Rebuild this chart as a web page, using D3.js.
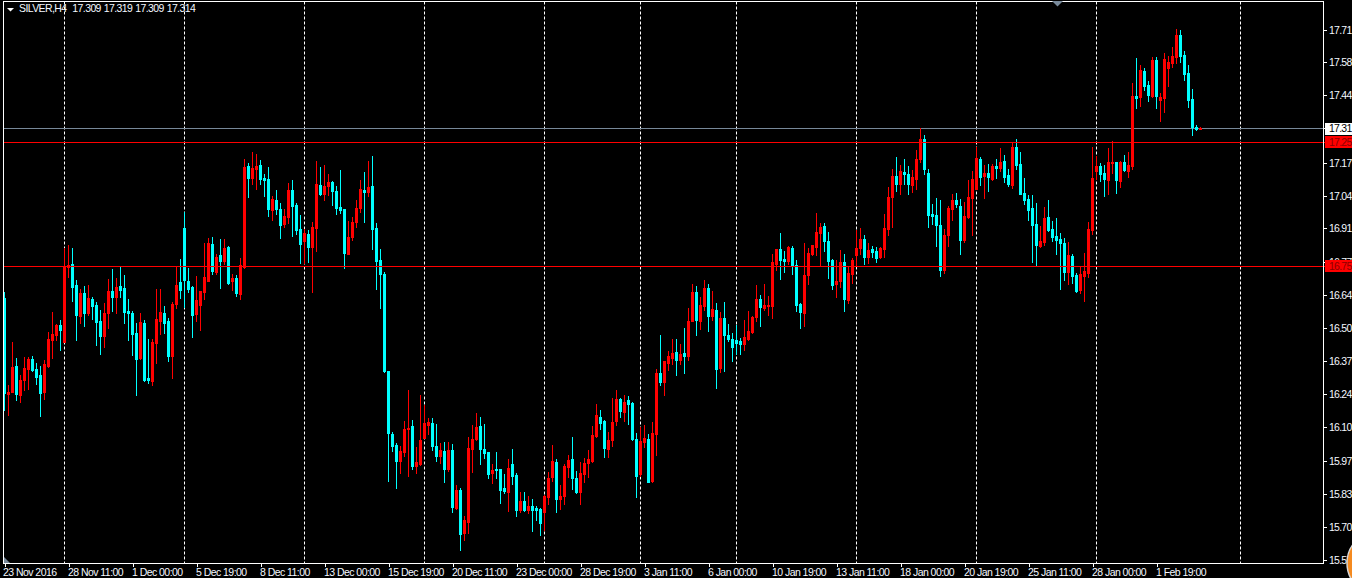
<!DOCTYPE html>
<html>
<head>
<meta charset="utf-8">
<script src="https://cdn.jsdelivr.net/npm/d3@7/dist/d3.min.js"></script>
<style>
html,body{margin:0;padding:0;background:#000;overflow:hidden}
svg{display:block}
text{font-family:"Liberation Sans",sans-serif;font-size:10.5px;fill:#f4f8ff;letter-spacing:-0.55px}
.tight text,text.tight{letter-spacing:-0.75px}
text.head{letter-spacing:-0.6px;word-spacing:0.6px}
</style>
</head>
<body>
<svg id="c" width="1352" height="578"></svg>
<script>
const opens=[
16.626,16.238,16.246,16.351,16.234,16.294,16.339,16.379,16.339,16.315,
16.246,16.351,16.456,16.476,16.517,16.448,16.751,16.763,16.678,16.553,
16.646,16.565,16.622,16.597,16.533,16.472,16.565,16.654,16.630,16.674,
16.666,16.573,16.565,16.484,16.383,16.525,16.302,16.290,16.444,16.533,
16.565,16.533,16.391,16.602,16.691,16.909,16.695,16.670,16.561,16.597,
16.650,16.695,16.844,16.731,16.800,16.776,16.832,16.695,16.707,16.642,
16.751,17.160,17.111,17.148,17.164,17.111,17.107,16.982,17.022,16.986,
16.925,16.953,17.063,17.002,16.905,16.856,16.885,16.832,16.909,17.083,
17.047,17.079,17.095,17.059,16.994,16.986,16.804,16.872,16.933,16.990,
17.063,17.055,17.079,16.909,16.780,16.723,16.331,16.076,16.031,15.967,
16.003,16.096,16.109,15.947,15.955,16.060,16.113,16.121,16.027,15.987,
16.007,15.934,16.011,15.777,15.849,15.676,15.720,16.015,16.056,16.109,
16.015,16.003,15.918,15.934,15.934,15.857,15.841,15.955,15.910,15.769,
15.805,15.769,15.785,15.777,15.773,15.761,15.821,15.902,15.963,15.813,
15.825,15.943,15.975,15.898,15.841,15.914,15.959,15.967,16.068,16.145,
16.129,16.015,16.052,16.129,16.217,16.165,16.213,16.201,16.056,15.914,
16.044,16.056,15.886,16.076,16.323,16.286,16.363,16.383,16.408,16.375,
16.404,16.391,16.533,16.650,16.533,16.593,16.666,16.553,16.577,16.343,
16.545,16.476,16.460,16.456,16.452,16.440,16.460,16.488,16.549,16.622,
16.585,16.593,16.593,16.763,16.824,16.784,16.776,16.828,16.759,16.602,
16.565,16.719,16.804,16.832,16.889,16.917,16.856,16.780,16.682,16.695,
16.772,16.618,16.723,16.800,16.828,16.864,16.792,16.824,16.816,16.792,
16.824,16.905,17.034,17.119,17.087,17.135,17.127,17.083,17.107,17.188,
17.269,17.131,16.966,16.962,16.921,16.739,16.881,16.986,17.022,16.998,
16.860,16.953,17.030,17.067,17.188,17.119,17.131,17.107,17.160,17.152,
17.180,17.123,17.083,17.236,17.168,17.051,17.026,16.990,16.925,16.836,
16.852,16.953,16.905,16.876,16.864,16.848,16.731,16.796,16.719,16.658,
16.715,16.727,16.901,17.139,17.160,17.131,17.103,17.172,17.176,17.099,
17.176,17.139,17.160,17.443,17.439,17.544,17.487,17.443,17.588,17.427,
17.435,17.556,17.576,17.600,17.690,17.608,17.536,17.431,17.317,17.309];
const closes=[
16.242,16.246,16.347,16.238,16.294,16.343,16.379,16.335,16.306,16.242,
16.359,16.460,16.480,16.517,16.496,16.755,16.759,16.670,16.557,16.646,
16.565,16.626,16.593,16.529,16.472,16.565,16.654,16.630,16.670,16.658,
16.569,16.565,16.480,16.379,16.529,16.294,16.294,16.448,16.541,16.569,
16.525,16.391,16.602,16.678,16.658,16.699,16.662,16.557,16.618,16.654,
16.711,16.848,16.735,16.792,16.776,16.828,16.686,16.707,16.646,16.759,
17.156,17.111,17.152,17.160,17.107,17.103,16.986,17.026,16.986,16.921,
16.957,17.063,16.998,16.901,16.844,16.889,16.832,16.913,17.087,17.047,
17.079,17.095,17.059,16.990,16.982,16.808,16.872,16.933,16.990,17.067,
17.055,17.075,16.905,16.776,16.723,16.331,16.080,16.027,15.967,16.007,
16.096,16.100,15.947,15.963,16.052,16.121,16.125,16.027,15.987,16.011,
15.934,16.011,15.781,15.849,15.672,15.728,16.019,16.056,16.104,16.015,
15.999,15.914,15.930,15.930,15.849,15.845,15.938,15.906,15.769,15.805,
15.769,15.785,15.769,15.769,15.716,15.825,15.898,15.967,15.813,15.825,
15.947,15.971,15.898,15.841,15.918,15.959,15.975,16.072,16.153,16.121,
16.019,16.052,16.125,16.217,16.169,16.205,16.197,16.056,15.906,16.048,
16.060,15.882,16.080,16.323,16.286,16.371,16.391,16.404,16.375,16.399,
16.391,16.533,16.650,16.537,16.597,16.666,16.553,16.581,16.339,16.545,
16.476,16.460,16.428,16.444,16.440,16.468,16.492,16.549,16.622,16.589,
16.597,16.597,16.772,16.824,16.780,16.776,16.832,16.759,16.597,16.569,
16.719,16.808,16.840,16.893,16.913,16.856,16.776,16.678,16.695,16.772,
16.622,16.727,16.780,16.828,16.864,16.792,16.820,16.812,16.788,16.828,
16.909,17.034,17.119,17.087,17.139,17.127,17.087,17.115,17.188,17.269,
17.147,16.962,16.957,16.921,16.739,16.881,16.990,17.022,17.006,16.860,
16.957,17.034,17.107,17.192,17.115,17.131,17.115,17.160,17.152,17.176,
17.115,17.087,17.236,17.164,17.047,17.022,16.982,16.921,16.840,16.856,
16.949,16.901,16.872,16.860,16.848,16.731,16.800,16.715,16.654,16.723,
16.735,16.905,17.111,17.160,17.127,17.107,17.176,17.176,17.103,17.176,
17.143,17.164,17.443,17.435,17.548,17.483,17.447,17.588,17.443,17.439,
17.592,17.580,17.604,17.690,17.604,17.532,17.427,17.317,17.309,17.314];
const highs=[
16.650,16.274,16.448,16.383,16.315,16.387,16.387,16.391,16.363,16.351,
16.375,16.488,16.569,16.521,16.537,16.828,16.840,16.828,16.699,16.662,
16.674,16.678,16.630,16.610,16.577,16.606,16.703,16.743,16.707,16.751,
16.719,16.622,16.573,16.525,16.565,16.537,16.460,16.460,16.662,16.662,
16.593,16.545,16.610,16.751,16.784,16.974,16.747,16.674,16.715,16.654,
16.848,16.869,16.873,16.804,16.864,16.864,16.836,16.723,16.719,16.788,
17.188,17.172,17.216,17.208,17.184,17.127,17.156,17.038,17.063,17.010,
16.986,17.091,17.103,17.010,16.962,16.905,16.901,16.933,17.180,17.156,
17.164,17.127,17.099,17.079,17.143,16.986,16.937,16.953,17.022,17.103,
17.135,17.180,17.200,16.929,16.824,16.731,16.331,16.084,16.040,16.027,
16.129,16.254,16.133,16.023,16.234,16.193,16.141,16.141,16.117,16.040,
16.044,16.044,16.036,15.870,15.857,15.744,16.064,16.113,16.161,16.145,
16.117,16.003,15.955,16.003,15.934,15.914,15.975,16.015,15.918,15.841,
15.841,15.825,15.813,15.785,15.777,15.829,15.922,16.032,15.975,15.870,
15.955,15.991,16.064,15.926,15.963,15.979,16.011,16.109,16.197,16.173,
16.133,16.084,16.221,16.254,16.221,16.234,16.230,16.205,16.080,16.104,
16.113,16.076,16.125,16.339,16.476,16.371,16.412,16.460,16.460,16.440,
16.504,16.585,16.682,16.674,16.630,16.699,16.682,16.654,16.606,16.569,
16.610,16.521,16.484,16.517,16.464,16.537,16.573,16.553,16.678,16.638,
16.682,16.634,16.804,16.824,16.889,16.816,16.836,16.836,16.780,16.606,
16.848,16.828,16.840,16.970,16.929,16.929,16.893,16.784,16.780,16.820,
16.804,16.755,16.788,16.901,16.909,16.881,16.848,16.836,16.832,16.832,
16.966,17.075,17.147,17.196,17.164,17.188,17.160,17.143,17.224,17.313,
17.285,17.147,17.006,17.030,17.022,16.905,16.998,17.047,17.051,17.026,
17.014,17.103,17.139,17.236,17.196,17.164,17.168,17.168,17.188,17.232,
17.204,17.147,17.257,17.269,17.216,17.111,17.042,17.042,17.010,16.917,
16.994,17.022,16.937,16.949,16.889,16.869,16.852,16.804,16.727,16.755,
16.808,16.933,17.236,17.200,17.172,17.164,17.232,17.261,17.176,17.180,
17.204,17.216,17.495,17.596,17.568,17.556,17.503,17.600,17.600,17.455,
17.617,17.604,17.641,17.714,17.710,17.625,17.568,17.471,17.325,17.319];
const lows=[
16.173,16.153,16.246,16.213,16.205,16.254,16.258,16.331,16.278,16.149,
16.217,16.347,16.383,16.456,16.416,16.448,16.711,16.614,16.456,16.525,
16.513,16.557,16.541,16.436,16.399,16.428,16.504,16.573,16.565,16.630,
16.525,16.456,16.395,16.234,16.379,16.290,16.282,16.274,16.363,16.480,
16.484,16.371,16.302,16.585,16.626,16.589,16.650,16.468,16.533,16.496,
16.622,16.695,16.723,16.723,16.666,16.763,16.682,16.658,16.634,16.622,
16.747,17.034,17.087,17.067,17.087,17.038,16.957,16.941,16.966,16.868,
16.913,16.929,16.877,16.885,16.767,16.767,16.772,16.650,16.816,17.042,
17.022,17.042,17.002,16.966,16.970,16.747,16.804,16.860,16.913,16.974,
16.933,17.038,16.824,16.662,16.585,16.327,15.886,16.007,15.857,15.918,
15.987,15.906,15.934,15.918,15.950,16.060,16.076,16.011,15.967,15.959,
15.882,15.926,15.760,15.773,15.607,15.647,15.676,15.922,16.052,15.955,
15.979,15.898,15.878,15.898,15.797,15.837,15.765,15.874,15.744,15.761,
15.765,15.757,15.684,15.728,15.668,15.688,15.793,15.886,15.761,15.773,
15.793,15.902,15.853,15.837,15.793,15.882,15.902,15.963,16.064,16.096,
15.983,15.983,16.028,16.113,16.145,16.129,16.117,16.052,15.821,15.906,
16.024,15.882,15.882,15.991,16.274,16.234,16.335,16.359,16.315,16.359,
16.323,16.375,16.533,16.476,16.500,16.577,16.492,16.537,16.262,16.327,
16.331,16.452,16.371,16.399,16.399,16.416,16.456,16.484,16.533,16.513,
16.577,16.557,16.545,16.739,16.703,16.731,16.763,16.723,16.573,16.504,
16.513,16.682,16.800,16.800,16.755,16.816,16.707,16.662,16.630,16.670,
16.573,16.606,16.686,16.755,16.804,16.763,16.767,16.792,16.772,16.788,
16.792,16.881,16.913,17.059,17.047,17.087,17.047,17.055,17.067,17.176,
17.127,16.913,16.925,16.836,16.715,16.727,16.836,16.941,16.994,16.804,
16.852,16.949,16.881,17.067,17.083,17.030,17.059,17.103,17.111,17.139,
17.095,17.079,17.071,17.147,17.047,17.006,16.941,16.771,16.755,16.832,
16.840,16.897,16.856,16.804,16.662,16.699,16.682,16.686,16.650,16.646,
16.614,16.711,16.885,17.107,17.099,17.038,17.047,17.131,17.051,17.075,
17.139,17.115,17.147,17.394,17.402,17.467,17.423,17.439,17.394,17.342,
17.378,17.483,17.560,17.576,17.580,17.507,17.398,17.285,17.305,17.309];

const priceTicks=[17.710,17.580,17.447,17.313,17.172,17.038,16.909,16.771,16.638,16.505,16.371,16.238,16.104,15.967,15.833,15.700,15.567];
const priceLabels=["17.71","17.58","17.44","17.31","17.17","17.04","16.91","16.77","16.64","16.50","16.37","16.24","16.10","15.97","15.83","15.70","15.57"];
const timeLabels=["23 Nov 2016","28 Nov 11:00","1 Dec 00:00","5 Dec 19:00","8 Dec 11:00","13 Dec 00:00","15 Dec 19:00","20 Dec 11:00","23 Dec 00:00","28 Dec 19:00","3 Jan 11:00","6 Jan 00:00","10 Jan 19:00","13 Jan 11:00","18 Jan 00:00","20 Jan 19:00","25 Jan 11:00","28 Jan 00:00","1 Feb 19:00"];
const timeTickBars=[1,17,33,49,65,81,97,113,129,145,161,177,193,209,225,241,257,273,289];
const separatorBars=[16,46,76,106,136,160,184,214,244,274,310];
const levelLines=[17.255,16.755];
const levelLabels=["17.25","16.75"];
const bidLine=17.313;
const bidLabel="17.31";
const header="SILVER,H4  17.309 17.319 17.309 17.314";

const UP="#ff0000",DOWN="#00ffff",GREY="#778899";
const svg=d3.select("#c");
const x=d3.scaleLinear([0,338],[0,1352]);
const y=d3.scaleLinear([17.831,15.494],[0,578]);
const L=3.5,R=1323.5,T=1.5,B=563.5;
const row=v=>Math.round(y(v));
const candles=d3.range(opens.length);

svg.append("rect").attr("width",1352).attr("height",578).attr("fill","#000");

// period separators
svg.append("g").selectAll("line").data(separatorBars).join("line")
  .attr("x1",d=>x(d)+.5).attr("x2",d=>x(d)+.5).attr("y1",T).attr("y2",B)
  .attr("stroke","#fff").attr("stroke-dasharray","3 2");

// bid line
svg.append("line").attr("x1",L).attr("x2",R).attr("y1",row(bidLine)+.5).attr("y2",row(bidLine)+.5).attr("stroke",GREY).attr("shape-rendering","crispEdges");

// candles
const g=svg.append("g").attr("shape-rendering","crispEdges");
const col=i=>closes[i]>=opens[i]?UP:DOWN;
g.selectAll("rect.w").data(candles).join("rect").attr("class","w")
  .attr("x",i=>x(i+1)).attr("width",1)
  .attr("y",i=>row(highs[i])).attr("height",i=>row(lows[i])-row(highs[i])+1)
  .attr("fill",col);
g.selectAll("rect.b").data(candles).join("rect").attr("class","b")
  .attr("x",i=>x(i+1)-1).attr("width",3)
  .attr("y",i=>row(Math.max(opens[i],closes[i])))
  .attr("height",i=>row(Math.min(opens[i],closes[i]))-row(Math.max(opens[i],closes[i]))+1)
  .attr("fill",col);

// horizontal levels
svg.append("g").attr("shape-rendering","crispEdges").selectAll("line").data(levelLines).join("line")
  .attr("x1",L).attr("x2",1326).attr("y1",d=>row(d)+.5).attr("y2",d=>row(d)+.5).attr("stroke",UP).attr("stroke-width",1);

// frame
svg.append("rect").attr("x",L).attr("y",T).attr("width",R-L).attr("height",B-T).attr("fill","none").attr("stroke","#fff").attr("shape-rendering","crispEdges");

// axes
const yAxis=d3.axisRight(y).tickValues(priceTicks).tickSize(3).tickPadding(2).tickFormat((d,i)=>priceLabels[i]);
const ya=svg.append("g").attr("class","tight").attr("transform",`translate(${R},0)`).call(yAxis);
ya.select(".domain").remove();
ya.selectAll("line").attr("stroke","#fff").attr("shape-rendering","crispEdges");
ya.selectAll("text").attr("x",5.5).attr("dy","0.36em");

const xAxis=d3.axisBottom(x).tickValues(timeTickBars).tickSize(3).tickPadding(2)
  .tickFormat((d,i)=>timeLabels[i]);
const xa=svg.append("g").attr("transform",`translate(0,${B})`).call(xAxis);
xa.select(".domain").remove();
xa.selectAll("line").attr("stroke","#fff").attr("x1",.5).attr("x2",.5).attr("shape-rendering","crispEdges");
xa.selectAll("text").attr("text-anchor","start").attr("x",(d,i)=>i==0?-1.5:-.5).attr("y",4).attr("dy","0.8em");

// price tags
const bidTag=svg.append("g");
bidTag.append("rect").attr("x",1325).attr("y",row(bidLine)-5).attr("width",27).attr("height",12).attr("fill","#fff");
bidTag.append("text").attr("class","tight").attr("x",1329).attr("y",row(bidLine)+.5).attr("dy","0.36em").style("fill","#000").text(bidLabel);
const lv=svg.append("g").selectAll("g").data(levelLines).join("g");
lv.append("rect").attr("x",1325).attr("y",d=>row(d)-6).attr("width",27).attr("height",12).attr("fill",UP);
lv.append("text").attr("class","tight").attr("x",1329).attr("y",d=>row(d)+.5).attr("dy","0.36em").style("fill","#8b0000").text((d,i)=>levelLabels[i]);

// header
svg.append("path").attr("d","M7,8 L14,8 L10.5,11.5 Z").attr("fill","#fff");
svg.append("text").attr("class","head").attr("x",19).attr("y",8.5).attr("dy","0.36em").style("white-space","pre").text(header);

// markers
svg.append("path").attr("d","M1052,1 L1063,1 L1057.5,6.5 Z").attr("fill",GREY);
svg.append("path").attr("d","M4,557 L4,563 L10,563 Z").attr("fill",GREY);
svg.append("circle").attr("cx",1379).attr("cy",563).attr("r",32).attr("fill","#f58a1f").attr("stroke","#d8d8d8").attr("stroke-width",1.5);
</script>
</body>
</html>
